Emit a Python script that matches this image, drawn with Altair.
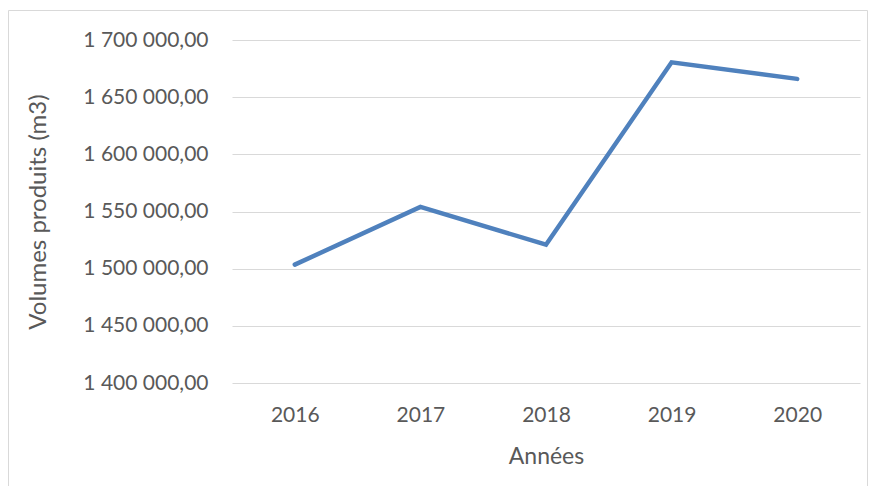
import altair as alt
import pandas as pd

years = ["2016", "2017", "2018", "2019", "2020"]
volumes = [1503500, 1554000, 1521000, 1680500, 1666000]

df = pd.DataFrame({"Année": years, "Volume": volumes})

TEXT = "#595959"
FONT = "Lato"

fr_label = "replace(replace(format(datum.value, ',.2f'), regexp(',', 'g'), ' '), '.', ',')"

border = alt.Chart(pd.DataFrame({"k": [0]})).mark_rect(
    fill="transparent", stroke="#D9D9D9", strokeWidth=1, clip=False
).encode(
    x=alt.value(-223.5), x2=alt.value(635.5), y=alt.value(-29.5), y2=alt.value(470)
)

line = alt.Chart(df).mark_line(
    color="#4F81BD", strokeWidth=4.5, strokeCap="round", strokeJoin="miter"
).encode(
    x=alt.X("Année:O", sort=years,
            scale=alt.Scale(padding=0.5),
            axis=alt.Axis(title="Années", labelAngle=0, ticks=False, domain=False,
                          grid=False, labelPadding=21, titlePadding=20,
                          labelFontSize=21, titleFontSize=23)),
    y=alt.Y("Volume:Q",
            scale=alt.Scale(domain=[1400000, 1700000], nice=False, zero=False),
            axis=alt.Axis(title="Volumes produits (m3)",
                          values=[1400000, 1450000, 1500000, 1550000, 1600000, 1650000, 1700000],
                          labelExpr=fr_label, ticks=False, domain=False,
                          gridColor="#D9D9D9", gridWidth=1.2,
                          labelPadding=24, titlePadding=32,
                          labelFontSize=21, titleFontSize=24)),
)

chart = alt.layer(border, line).properties(
    width=628, height=343,
    background="white",
    autosize=alt.AutoSizeParams(type="none"),
    padding={"left": 224, "top": 32, "right": 8, "bottom": 103},
).configure_view(stroke=None).configure_axis(
    labelColor=TEXT, titleColor=TEXT, labelFont=FONT, titleFont=FONT,
    titleFontWeight="normal"
)

chart.save("out.html", embed_options={"renderer": "svg", "actions": False})
